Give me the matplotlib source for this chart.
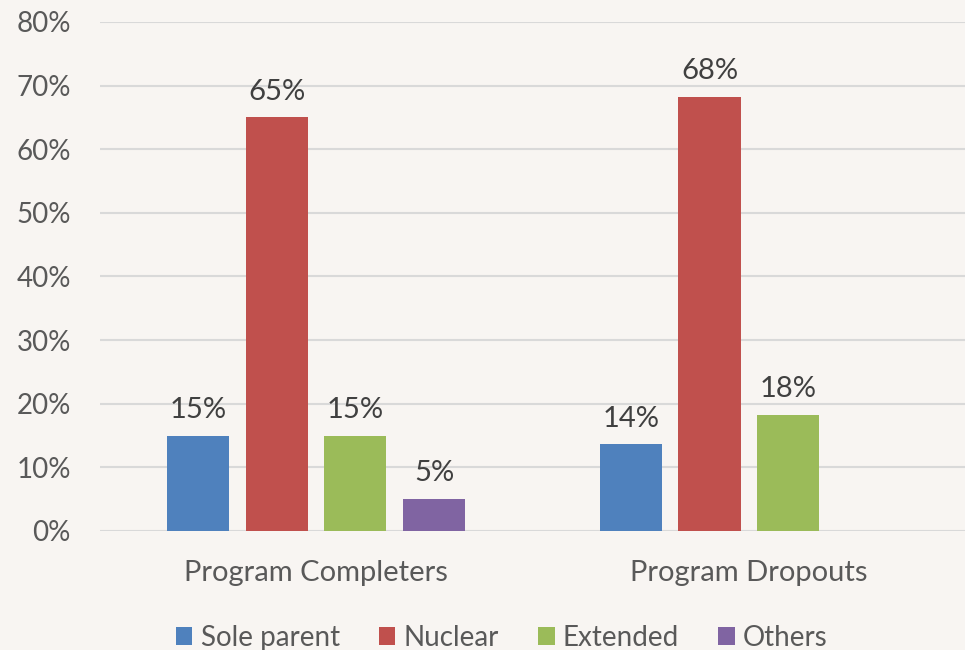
import matplotlib
matplotlib.use("Agg")
import matplotlib.pyplot as plt
import numpy as np

categories = ["Program Completers", "Program Dropouts"]
series = ["Sole parent", "Nuclear", "Extended", "Others"]
sole_parent = [15, 13.6]
nuclear = [65, 68.2]
extended = [15, 18.2]
others = [5, None]
labels = [["15%", "14%"], ["65%", "68%"], ["15%", "18%"], ["5%", None]]
colors = ["#4F81BD", "#C0504D", "#9BBB59", "#8064A2"]
yticks = [0, 10, 20, 30, 40, 50, 60, 70, 80]

plt.rcParams['font.family'] = ['Lato', 'DejaVu Sans']
bg = "#F8F5F2"
fig = plt.figure(figsize=(9.65, 6.5), dpi=100, facecolor=bg)
ax = fig.add_axes([0.1036, 0.1831, 0.8964, 0.7831], facecolor=bg)

x = np.arange(len(categories))
width = 0.1434
step = 0.1815
data = [sole_parent, nuclear, extended, others]
handles = []
for i, (vals, name, col) in enumerate(zip(data, series, colors)):
    xs = []
    hs = []
    for j, v in enumerate(vals):
        if v is not None:
            xs.append(x[j] + (i - 1.5) * step)
            hs.append(v)
    b = ax.bar(xs, hs, width=width, color=col, label=name, zorder=3)
    handles.append(b)
    for j, v in enumerate(vals):
        if v is not None:
            ax.text(x[j] + (i - 1.5) * step, v + 2.0, labels[i][j], ha="center", va="bottom",
                    fontsize=21, color="#404040")

ax.set_xlim(-0.5, 1.5)
ax.set_ylim(0, 80)
ax.set_yticks(yticks)
ax.set_yticklabels([f"{t}%" for t in yticks], fontsize=20, color="#595959")
ax.set_xticks(x)
ax.set_xticklabels(categories, fontsize=21, color="#595959")
ax.tick_params(axis="both", length=0)
ax.tick_params(axis="y", pad=21)
ax.tick_params(axis="x", pad=21)
ax.grid(axis="y", color="#D9D9D9", linewidth=1.5, zorder=0)
for s in ax.spines.values():
    s.set_visible(False)

fig.legend(handles=handles, labels=series, loc="lower center", bbox_to_anchor=(0.52, -0.04),
           ncol=4, frameon=False, fontsize=20, labelcolor="#595959",
           handlelength=0.6, handleheight=0.6, handletextpad=0.3, columnspacing=1.4)

fig.savefig("out.png", dpi=100, facecolor=bg)
